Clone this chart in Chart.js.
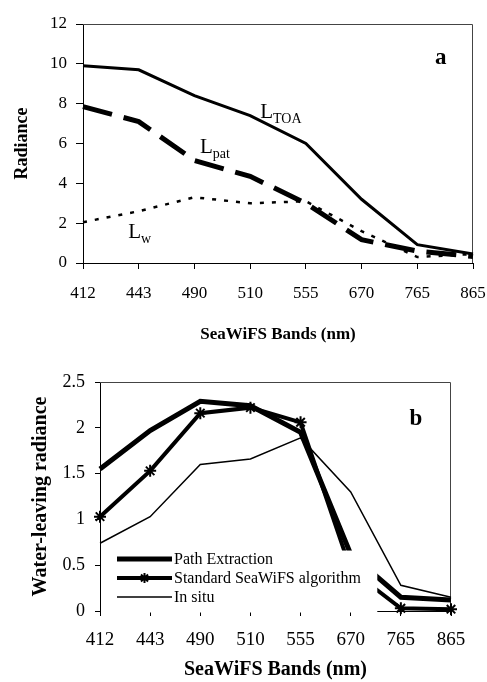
<!DOCTYPE html>
<html>
<head>
<meta charset="utf-8">
<script src="https://cdn.jsdelivr.net/npm/chart.js@4.4.1/dist/chart.umd.min.js"></script>
<style>
  html, body { margin: 0; padding: 0; background: #fff; }
  #wrap { position: relative; width: 487px; height: 682px; }
  #topBox { position: absolute; left: 0; top: 0; width: 487px; height: 345px; }
  #botBox { position: absolute; left: 0; top: 345px; width: 487px; height: 337px; }
</style>
</head>
<body>
<div id="wrap">
  <div id="topBox"><canvas id="chartA"></canvas></div>
  <div id="botBox"><canvas id="chartB"></canvas></div>
</div>
<script>
// SeaWiFS bands, shared by both panels
const bands = ['412', '443', '490', '510', '555', '670', '765', '865'];

// panel a: radiance
const radianceTicks = [0, 2, 4, 6, 8, 10, 12];
const lToa = [9.9, 9.7, 8.4, 7.4, 6.0, 3.2, 0.92, 0.45];
const lPath = [7.85, 7.1, 5.15, 4.35, 3.0, 1.17, 0.6, 0.33];
const lWater = [2.05, 2.6, 3.3, 3.0, 3.1, 1.6, 0.3, 0.45];

// panel b: water-leaving radiance
const wlrTicks = [0, 0.5, 1, 1.5, 2, 2.5];
const pathExtraction = [1.55, 1.97, 2.29, 2.24, 1.95, 0.62, 0.15, 0.12];
const standardSeaWiFS = [1.03, 1.53, 2.16, 2.22, 2.06, 0.45, 0.03, 0.02];
const inSitu = [0.74, 1.03, 1.6, 1.66, 1.89, 1.3, 0.28, 0.15];

const SERIF = '"Liberation Serif", "Times New Roman", serif';

// box round the plot (top and right edges only)
const framePlugin = {
    id: 'frame',
    beforeDatasetsDraw(chart, args, opts) {
        const a = chart.chartArea;
        const ctx = chart.ctx;
        ctx.save();
        ctx.strokeStyle = '#444';
        ctx.lineWidth = 1;
        ctx.beginPath();
        ctx.moveTo(a.left, a.top + 0.5);
        ctx.lineTo(a.right - 0.5, a.top + 0.5);
        ctx.lineTo(a.right - 0.5, a.bottom);
        ctx.stroke();
        ctx.restore();
    }
};

// text labels put in data space
const notesPlugin = {
    id: 'notes',
    afterDraw(chart, args, opts) {
        const ctx = chart.ctx;
        const xs = chart.scales.x, ys = chart.scales.y;
        ctx.save();
        ctx.fillStyle = '#000';
        ctx.textBaseline = 'alphabetic';
        (opts.items || []).forEach(function (it) {
            let px = xs.getPixelForValue(it.x);
            const py = ys.getPixelForValue(it.y);
            ctx.font = it.font;
            ctx.textAlign = it.align || 'left';
            ctx.fillText(it.text, px, py);
            if (it.sub) {
                px += ctx.measureText(it.text).width;
                ctx.font = it.subFont;
                ctx.textAlign = 'left';
                ctx.fillText(it.sub, px, py + 5);
            }
        });
        ctx.restore();
    }
};

// white legend box inside the plot, bottom left (it hides what lies under it)
const boxLegendPlugin = {
    id: 'boxLegend',
    afterDraw(chart, args, opts) {
        const ctx = chart.ctx;
        const a = chart.chartArea;
        const xs = chart.scales.x, ys = chart.scales.y;
        const right = xs.getPixelForValue(opts.boxRight);
        const top = ys.getPixelForValue(opts.boxTop);
        ctx.save();
        ctx.fillStyle = '#fff';
        ctx.fillRect(a.left + 1, top, right - a.left - 1, a.bottom + 1.5 - top);
        chart.data.datasets.forEach(function (ds, i) {
            const y = opts.y + i * opts.step;
            ctx.strokeStyle = ds.borderColor;
            ctx.lineWidth = ds.borderWidth;
            ctx.beginPath();
            ctx.moveTo(opts.x, y);
            ctx.lineTo(opts.x + opts.len, y);
            ctx.stroke();
            if (ds.pointStyle && ds.pointRadius > 0) {
                ctx.lineWidth = ds.pointBorderWidth || 2;
                Chart.helpers.drawPoint(ctx, {
                    pointStyle: ds.pointStyle,
                    radius: ds.pointRadius - 1,
                    borderWidth: ds.pointBorderWidth || 2,
                    rotation: 0
                }, opts.x + opts.len / 2, y);
            }
            ctx.fillStyle = '#000';
            ctx.font = opts.font;
            ctx.textAlign = 'left';
            ctx.textBaseline = 'middle';
            ctx.fillText(ds.label, opts.x + opts.len + 2, y + 1);
        });
        ctx.restore();
    }
};

function noSidePadding(s) {
    s.paddingLeft = 0;
    s.paddingRight = 0;
}

function renderRadiance() {
    const ctx = document.getElementById('chartA');
    const config = {
        type: 'line',
        data: {
            labels: bands,
            datasets: [
                { label: 'LTOA', data: lToa, borderColor: '#000', borderWidth: 3, pointRadius: 0, tension: 0 },
                { label: 'Lpat', data: lPath, borderColor: '#000', borderWidth: 5, borderDash: [30, 12], pointRadius: 0, tension: 0 },
                { label: 'Lw', data: lWater, borderColor: '#000', borderWidth: 2.5, borderDash: [4, 8], pointRadius: 0, tension: 0 },
            ]
        },
        options: {
            responsive: true,
            maintainAspectRatio: false,
            animation: false,
            layout: { padding: { top: 24, right: 14, left: 0, bottom: 0 } },
            scales: {
                x: {
                    offset: false,
                    afterFit: function (s) { s.height = 82; noSidePadding(s); },
                    grid: { display: true, drawOnChartArea: false, drawTicks: true, tickLength: 6, color: '#000' },
                    border: { display: true, color: '#000', width: 1 },
                    ticks: { color: '#000', padding: 14, maxRotation: 0, font: { family: SERIF, size: 17 } },
                    title: { display: true, text: 'SeaWiFS Bands (nm)', color: '#000', padding: { top: 0, bottom: 0 }, font: { family: SERIF, size: 17, weight: 'bold' } }
                },
                y: {
                    min: 0,
                    max: 12,
                    afterFit: function (s) { s.width = 83; },
                    afterBuildTicks: function (s) { s.ticks = radianceTicks.map(function (v) { return { value: v }; }); },
                    grid: { display: true, drawOnChartArea: false, drawTicks: true, tickLength: 7, color: '#000' },
                    border: { display: true, color: '#000', width: 1 },
                    ticks: { color: '#000', padding: 9, font: { family: SERIF, size: 17 } },
                    title: { display: true, text: 'Radiance', color: '#000', padding: { top: 12, bottom: 0 }, font: { family: SERIF, size: 18, weight: 'bold' } }
                }
            },
            plugins: {
                legend: { display: false },
                tooltip: { enabled: false },
                notes: {
                    items: [
                        { x: 3.18, y: 7.3, text: 'L', sub: 'TOA', font: '21px ' + SERIF, subFont: '14px ' + SERIF },
                        { x: 2.1, y: 5.5, text: 'L', sub: 'pat', font: '21px ' + SERIF, subFont: '14px ' + SERIF },
                        { x: 0.81, y: 1.25, text: 'L', sub: 'w', font: '21px ' + SERIF, subFont: '14px ' + SERIF },
                        { x: 6.42, y: 10.0, text: 'a', align: 'center', font: 'bold 23px ' + SERIF }
                    ]
                }
            }
        },
        plugins: [framePlugin, notesPlugin]
    };
    return new Chart(ctx, config);
}

function renderWaterLeaving() {
    const ctx = document.getElementById('chartB');
    const config = {
        type: 'line',
        data: {
            labels: bands,
            datasets: [
                { label: 'Path Extraction', data: pathExtraction, borderColor: '#000', borderWidth: 5, pointRadius: 0, tension: 0 },
                { label: 'Standard SeaWiFS algorithm', data: standardSeaWiFS, borderColor: '#000', borderWidth: 4, pointStyle: 'star', pointRadius: 6, pointBorderWidth: 2, pointBorderColor: '#000', tension: 0, clip: false },
                { label: 'In situ', data: inSitu, borderColor: '#000', borderWidth: 1.5, pointRadius: 0, tension: 0 },
            ]
        },
        options: {
            responsive: true,
            maintainAspectRatio: false,
            animation: false,
            layout: { padding: { top: 37, right: 36, left: 0, bottom: 0 } },
            scales: {
                x: {
                    offset: false,
                    afterFit: function (s) { s.height = 71; noSidePadding(s); },
                    grid: { display: true, drawOnChartArea: false, drawTicks: true, tickLength: 5, color: '#000' },
                    border: { display: true, color: '#000', width: 1 },
                    ticks: { color: '#000', padding: 13, maxRotation: 0, font: { family: SERIF, size: 19 } },
                    title: { display: true, text: 'SeaWiFS Bands (nm)', color: '#000', padding: { top: 0, bottom: 0 }, font: { family: SERIF, size: 20, weight: 'bold' } }
                },
                y: {
                    min: 0,
                    max: 2.5,
                    afterFit: function (s) { s.width = 100; },
                    afterBuildTicks: function (s) { s.ticks = wlrTicks.map(function (v) { return { value: v }; }); },
                    grid: { display: true, drawOnChartArea: false, drawTicks: true, tickLength: 5, color: '#000' },
                    border: { display: true, color: '#000', width: 1 },
                    ticks: {
                        color: '#000', padding: 10, font: { family: SERIF, size: 18 },
                        callback: function (v) { return String(v); }
                    },
                    title: { display: true, text: 'Water-leaving radiance', color: '#000', padding: { top: 29, bottom: 0 }, font: { family: SERIF, size: 20, weight: 'bold' } }
                }
            },
            plugins: {
                legend: { display: false },
                tooltip: { enabled: false },
                boxLegend: { boxRight: 5.53, boxTop: 0.66, x: 117, y: 214, step: 19, len: 55, font: '16px ' + SERIF },
                notes: {
                    items: [
                        { x: 6.3, y: 2.03, text: 'b', align: 'center', font: 'bold 23px ' + SERIF }
                    ]
                }
            }
        },
        plugins: [framePlugin, boxLegendPlugin, notesPlugin]
    };
    return new Chart(ctx, config);
}

renderRadiance();
renderWaterLeaving();
</script>
</body>
</html>
